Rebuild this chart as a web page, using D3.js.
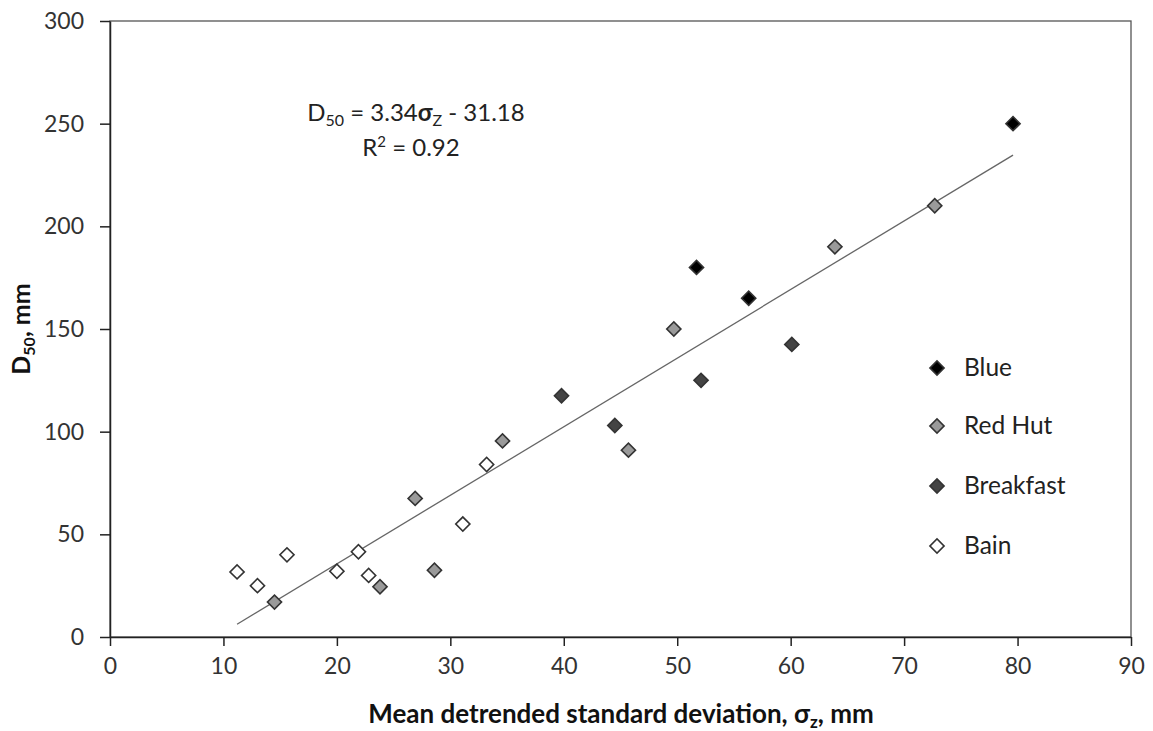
<!DOCTYPE html>
<html>
<head>
<meta charset="utf-8">
<script src="https://cdn.jsdelivr.net/npm/d3@7"></script>
<style>
  body { margin: 0; background: #fff; }
  svg { font-family: Lato, "Liberation Sans", sans-serif; }
</style>
</head>
<body>
<svg id="chart" width="1153" height="731"></svg>
<script>
// ---- data ----
const seriesNames = ["Blue", "Red Hut", "Breakfast", "Bain"];
const blueX = [79.6, 51.7, 56.3];
const blueY = [250, 180, 165];
const redHutX = [72.7, 63.9, 49.7, 34.6, 26.9, 28.6, 23.8, 14.5, 45.7];
const redHutY = [210, 190, 150, 95.5, 67.5, 32.5, 24.5, 17, 91];
const breakfastX = [39.8, 44.5, 52.1, 60.1];
const breakfastY = [117.5, 103, 125, 142.5];
const bainX = [11.2, 13.0, 15.6, 20.0, 21.9, 22.8, 31.1, 33.2];
const bainY = [31.7, 25, 40, 32, 41.5, 30, 55, 84];
const xTicks = [0, 10, 20, 30, 40, 50, 60, 70, 80, 90];
const yTicks = [0, 50, 100, 150, 200, 250, 300];
const trendSlope = 3.34, trendIntercept = -31.18;
const trendRange = [11.2, 79.6];

const fills = { "Blue": "#000000", "Red Hut": "#9a9a9a", "Breakfast": "#444444", "Bain": "#ffffff" };
const seriesData = [
  { name: "Blue", xs: blueX, ys: blueY },
  { name: "Red Hut", xs: redHutX, ys: redHutY },
  { name: "Breakfast", xs: breakfastX, ys: breakfastY },
  { name: "Bain", xs: bainX, ys: bainY }
];

const svg = d3.select("#chart");
const pLeft = 110, pRight = 1131, pTop = 21, pBottom = 637;
const x = d3.scaleLinear().domain([0, 90]).range([pLeft, pRight]);
const y = d3.scaleLinear().domain([0, 300]).range([pBottom, pTop]);

// frame
svg.append("rect").attr("x", pLeft).attr("y", pTop).attr("width", pRight - pLeft).attr("height", pBottom - pTop)
  .attr("fill", "none").attr("stroke", "#555").attr("stroke-width", 1.3);

// axes
const xAxis = svg.append("g").attr("transform", `translate(0,${pBottom})`)
  .call(d3.axisBottom(x).tickValues(xTicks).tickSizeOuter(0).tickSizeInner(9).tickPadding(12));
const yAxis = svg.append("g").attr("transform", `translate(${pLeft},0)`)
  .call(d3.axisLeft(y).tickValues(yTicks).tickSizeOuter(0).tickSizeInner(10).tickPadding(16));
[xAxis, yAxis].forEach(g => {
  g.selectAll("path").attr("stroke", "#222").attr("stroke-width", 1.5);
  g.selectAll("line").attr("stroke", "#222").attr("stroke-width", 1.5);
  g.selectAll("text").attr("font-size", 23).attr("fill", "#333").attr("font-family", "Lato, sans-serif");
});

// trendline
svg.append("line")
  .attr("x1", x(trendRange[0])).attr("y1", y(trendSlope * trendRange[0] + trendIntercept))
  .attr("x2", x(trendRange[1])).attr("y2", y(trendSlope * trendRange[1] + trendIntercept))
  .attr("stroke", "#666").attr("stroke-width", 1.3);

// points
const diamond = d3.symbol().type(d3.symbolSquare).size(100);
seriesData.forEach(s => {
  svg.append("g").selectAll("path")
    .data(s.xs.map((v, i) => [v, s.ys[i]]))
    .join("path")
    .attr("d", diamond)
    .attr("transform", d => `translate(${x(d[0])},${y(d[1])}) rotate(45)`)
    .attr("fill", fills[s.name])
    .attr("stroke", "#333").attr("stroke-width", 1.6);
});

// legend
const legendY = [368, 426, 486, 546];
seriesNames.forEach((n, i) => {
  svg.append("path").attr("d", diamond)
    .attr("transform", `translate(937,${legendY[i]}) rotate(45)`)
    .attr("fill", fills[n]).attr("stroke", "#333").attr("stroke-width", 1.6);
  svg.append("text").attr("x", 964).attr("y", legendY[i] + 8)
    .attr("font-size", 24.5).attr("fill", "#222").text(n);
});

// equation
const eq = svg.append("text").attr("x", 416).attr("y", 121).attr("text-anchor", "middle")
  .attr("font-size", 24).attr("fill", "#222");
eq.append("tspan").text("D");
eq.append("tspan").attr("font-size", 16).attr("dy", 5).text("50");
eq.append("tspan").attr("dy", -5).text(" = 3.34");
eq.append("tspan").attr("font-weight", "bold").text("σ");
eq.append("tspan").attr("font-size", 16).attr("dy", 5).text("Z");
eq.append("tspan").attr("dy", -5).text(" - 31.18");
const r2 = svg.append("text").attr("x", 411).attr("y", 156).attr("text-anchor", "middle")
  .attr("font-size", 24).attr("fill", "#222");
r2.append("tspan").text("R");
r2.append("tspan").attr("font-size", 15).attr("dy", -9).text("2");
r2.append("tspan").attr("dy", 9).text(" = 0.92");

// axis titles
const xt = svg.append("text").attr("x", 621).attr("y", 723).attr("text-anchor", "middle")
  .attr("font-size", 26).attr("font-weight", "bold").attr("fill", "#111");
xt.append("tspan").text("Mean detrended standard deviation, σ");
xt.append("tspan").attr("font-size", 17).attr("dy", 5).text("z");
xt.append("tspan").attr("dy", -5).text(", mm");

const yt = svg.append("text").attr("transform", `translate(30,329) rotate(-90)`).attr("text-anchor", "middle")
  .attr("font-size", 25).attr("font-weight", "bold").attr("fill", "#111");
yt.append("tspan").text("D");
yt.append("tspan").attr("font-size", 16).attr("dy", 5).text("50");
yt.append("tspan").attr("dy", -5).text(", mm");
</script>
</body>
</html>
